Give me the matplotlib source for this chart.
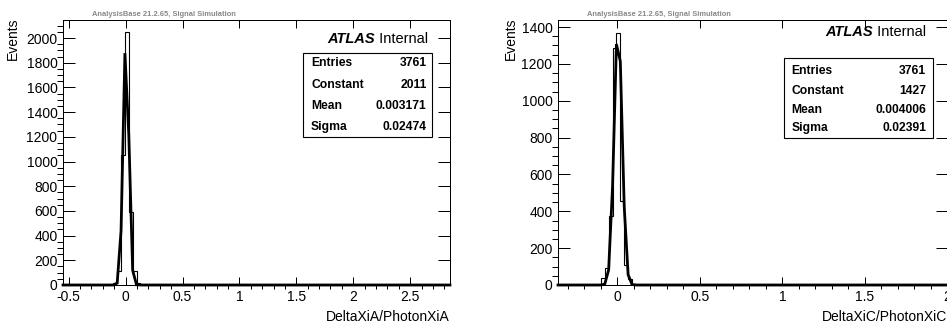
import numpy as np
import matplotlib
matplotlib.use('Agg')
import matplotlib.pyplot as plt
from matplotlib.ticker import MultipleLocator
from matplotlib.patches import Rectangle

W, H = 947, 325
FONT = ['Liberation Sans', 'DejaVu Sans']
plt.rcParams['font.family'] = FONT

# ---------------- data ----------------
n_bins = 100

left_range = (-0.55, 2.85)
left_first_bin = 13
left_counts = [20, 110, 1050, 2050, 590, 110, 15]
left_entries = 3761
left_constant = 2011
left_mean = 0.003171
left_sigma = 0.02474
left_xlabel = 'DeltaXiA/PhotonXiA'
left_ymax = 2146
left_xticks = [-0.5, 0, 0.5, 1, 1.5, 2, 2.5]
left_yticks = [0, 200, 400, 600, 800, 1000, 1200, 1400, 1600, 1800, 2000]

right_range = (-0.36, 2.0)
right_first_bin = 11
right_counts = [40, 90, 375, 1285, 1370, 455, 110, 30, 6]
right_entries = 3761
right_constant = 1427
right_mean = 0.004006
right_sigma = 0.02391
right_xlabel = 'DeltaXiC/PhotonXiC'
right_ymax = 1438
right_xticks = [0, 0.5, 1, 1.5, 2]
right_yticks = [0, 200, 400, 600, 800, 1000, 1200, 1400]

header = 'AnalysisBase 21.2.65, Signal Simulation'


def fx(p):
    return p / W


def fy(p):
    return 1 - p / H


fig = plt.figure(figsize=(W / 100, H / 100), dpi=100)


def panel(x0, x1, rng, first, counts, C, mu, sig, entries, xlabel, ymax,
          xticks, yticks, ylab_x, head_x, atlas_x, atlas_y, box, rows, name_x, val_x):
    ax = fig.add_axes([fx(x0), fy(285), fx(x1) - fx(x0), fy(20) - fy(285)])
    edges = np.linspace(rng[0], rng[1], n_bins + 1)
    h = np.zeros(n_bins)
    h[first:first + len(counts)] = counts
    ax.stairs(h, edges, color='black', lw=0.8, clip_on=False, zorder=3)
    xs = np.linspace(rng[0], rng[1], n_bins + 1)
    ys = C * np.exp(-0.5 * ((xs - mu) / sig) ** 2)
    ax.plot(xs, ys, color='black', lw=2.0, clip_on=False, zorder=4,
            solid_joinstyle='miter')
    ax.set_xlim(rng)
    ax.set_ylim(0, ymax)
    ax.set_xticks(xticks)
    ax.set_xticklabels([('%g' % t) for t in xticks])
    ax.set_yticks(yticks)
    ax.xaxis.set_minor_locator(MultipleLocator(0.1))
    ax.yaxis.set_minor_locator(MultipleLocator(50))
    ax.tick_params(direction='in', top=True, right=True, width=0.72,
                   labelsize=10, colors='black')
    ax.tick_params(axis='x', which='major', length=6, pad=3.5)
    ax.tick_params(axis='x', which='minor', length=3, width=0.72)
    ax.tick_params(axis='y', which='major', length=8.5, pad=4)
    ax.tick_params(axis='y', which='minor', length=4.3, width=0.72)
    for s in ax.spines.values():
        s.set_linewidth(0.72)
    fig.text(fx(x1), fy(317), xlabel, ha='right', va='center', fontsize=10)
    fig.text(fx(ylab_x), fy(18), 'Events', rotation=90, ha='center', va='top',
             fontsize=10)
    fig.text(fx(head_x), fy(14), header, ha='left', va='center', fontsize=5.45,
             color='#888888', fontweight='bold')
    t = fig.text(fx(atlas_x), fy(atlas_y), ' Internal', ha='right', va='center',
                 fontsize=10.5)
    fig.canvas.draw()
    bb = t.get_window_extent()
    fig.text(bb.x0 / W, fy(atlas_y), 'ATLAS', ha='right', va='center',
             fontsize=10.5, fontweight='bold', fontstyle='italic')
    bx0, by0, bx1, by1 = box
    fig.add_artist(Rectangle((fx(bx0), fy(by1)), fx(bx1) - fx(bx0), fy(by0) - fy(by1),
                             transform=fig.transFigure, facecolor='white',
                             edgecolor='black', lw=0.8, zorder=5))
    names = ['Entries', 'Constant', 'Mean', 'Sigma']
    vals = ['%d' % entries, '%.4g' % C, '%.4g' % mu, '%.4g' % sig]
    for n, v, ry in zip(names, vals, rows):
        fig.text(fx(name_x), fy(ry), n, ha='left', va='center', fontsize=8.7,
                 fontweight='bold', zorder=6)
        fig.text(fx(val_x), fy(ry), v, ha='right', va='center', fontsize=8.7,
                 fontweight='bold', zorder=6)
    return ax


panel(63, 450, left_range, left_first_bin, left_counts, left_constant, left_mean,
      left_sigma, left_entries, left_xlabel, left_ymax, left_xticks, left_yticks,
      13, 92, 428, 39, (302.7, 53, 431.7, 137), [63, 85, 106, 127], 311, 426.7)
panel(558, 947.5, right_range, right_first_bin, right_counts, right_constant,
      right_mean, right_sigma, right_entries, right_xlabel, right_ymax,
      right_xticks, right_yticks,
      511, 587, 926, 32, (784, 58, 933, 138), [71, 91, 110, 128], 791.7, 926)

fig.savefig('out.png', dpi=100)
